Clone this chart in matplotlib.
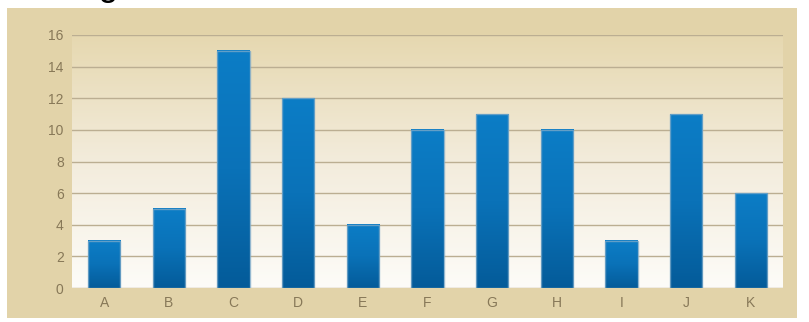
import numpy as np
import matplotlib.pyplot as plt
from matplotlib.patches import Rectangle
from matplotlib.colors import LinearSegmentedColormap

# data
categories = ["A", "B", "C", "D", "E", "F", "G", "H", "I", "J", "K"]
values = [3, 5, 15, 12, 4, 10, 11, 10, 3, 11, 6]
yticks = [0, 2, 4, 6, 8, 10, 12, 14, 16]

W, H = 809, 322
fig = plt.figure(figsize=(W / 100, H / 100), dpi=100)
fig.patch.set_facecolor("white")

# beige panel behind the chart
fig.patches.append(Rectangle((7 / W, 4 / H), 790 / W, 310 / H,
                             transform=fig.transFigure, facecolor="#e2d3a9",
                             edgecolor="none", zorder=-5))

# title sits mostly above the canvas
fig.text(118 / W, 1 + 5 / H, "Ranking", ha="right", va="baseline",
         fontsize=26, color="black", family="Liberation Sans")

ax = fig.add_axes([72 / W, 34 / H, 711 / W, 253 / H])
ax.set_zorder(1)
ax.patch.set_visible(False)

# plot area gradient: beige at top fading to white at bottom
bg = LinearSegmentedColormap.from_list("bg", ["#fdfcf8", "#f3ecdc", "#e6d8b0"])
grad = np.linspace(0, 1, 256).reshape(-1, 1)
ax.imshow(grad, cmap=bg, aspect="auto", extent=[0, 1, 0, 1],
          transform=ax.transAxes, origin="lower", zorder=0)

for y in yticks:
    ax.axhline(y, color="#bbae92", lw=1.0, zorder=1)

# bars with vertical blue gradient
bar_cm = LinearSegmentedColormap.from_list("bar", ["#045b99", "#0a72b8", "#0c7dc6"])
w = 0.5
x = np.arange(len(categories))
for xi, v in zip(x, values):
    ax.imshow(grad, cmap=bar_cm, aspect="auto", origin="lower",
              extent=[xi - w / 2, xi + w / 2, 0, v], zorder=3)
    ax.add_patch(Rectangle((xi - w / 2, 0), w, v, facecolor="none",
                           edgecolor="#7aa8c8", lw=1.0, alpha=0.8, zorder=4))

ax.set_xlim(-0.5, len(categories) - 0.5)
ax.set_ylim(0, 16)
ax.set_xticks(x)
ax.set_xticklabels(categories)
ax.set_yticks(yticks)
ax.tick_params(length=0, colors="#877858", labelsize=10, pad=6)
for lab in ax.get_xticklabels() + ax.get_yticklabels():
    lab.set_family("Liberation Sans")
for s in ax.spines.values():
    s.set_visible(False)

fig.savefig("out.png", dpi=100)
